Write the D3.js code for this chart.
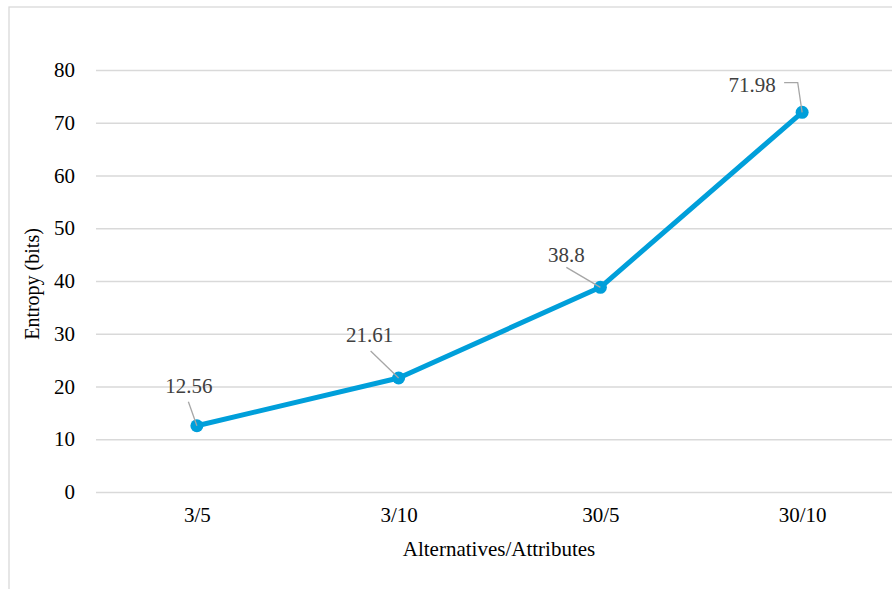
<!DOCTYPE html>
<html>
<head>
<meta charset="utf-8">
<script src="https://cdn.jsdelivr.net/npm/d3@7"></script>
<style>
  html, body { margin: 0; padding: 0; background: #fff; }
  svg { display: block; }
  text { font-family: "Liberation Serif", "Times New Roman", serif; }
</style>
</head>
<body>
<svg id="chart" width="892" height="589"></svg>
<script>
// Entropy per configuration (alternatives/attributes)
const categories = ["3/5", "3/10", "30/5", "30/10"];
const entropy = [12.56, 21.61, 38.8, 71.98];
const dataLabels = ["12.56", "21.61", "38.8", "71.98"];
const yTicks = [0, 10, 20, 30, 40, 50, 60, 70, 80];

const W = 892, H = 589;
const svg = d3.select("#chart");

svg.append("rect").attr("width", W).attr("height", H).attr("fill", "#fff");

// outer chart frame (continues past the right and bottom edges)
svg.append("rect")
  .attr("x", 9).attr("y", 7)
  .attr("width", 1000).attr("height", 1000)
  .attr("fill", "none").attr("stroke", "#d9d9d9").attr("stroke-width", 1.3);

const plot = { left: 96, right: 903, top: 70, bottom: 492 };

const x = d3.scalePoint().domain(categories).range([plot.left, plot.right]).padding(0.5);
const y = d3.scaleLinear().domain([0, 80]).range([plot.bottom, plot.top]);

// horizontal gridlines + value labels
const yAxis = d3.axisLeft(y).tickValues(yTicks).tickSize(-(plot.right - plot.left)).tickPadding(21);
const gy = svg.append("g").attr("transform", `translate(${plot.left},0)`).call(yAxis);
gy.select(".domain").remove();
gy.selectAll(".tick line").attr("stroke", "#d9d9d9").attr("stroke-width", 1.5);
gy.selectAll(".tick text")
  .attr("font-family", "Liberation Serif, Times New Roman, serif")
  .attr("font-size", 21).attr("fill", "#000");

// category labels
const xAxis = d3.axisBottom(x).tickSize(0).tickPadding(15);
const gx = svg.append("g").attr("transform", `translate(0,${plot.bottom})`).call(xAxis);
gx.select(".domain").remove();
gx.selectAll(".tick text")
  .attr("font-family", "Liberation Serif, Times New Roman, serif")
  .attr("font-size", 21).attr("fill", "#000");

// axis titles
svg.append("text")
  .attr("transform", `translate(39,${(plot.top + plot.bottom) / 2 + 3}) rotate(-90)`)
  .attr("text-anchor", "middle").attr("font-size", 20).attr("fill", "#000")
  .text("Entropy (bits)");
svg.append("text")
  .attr("x", 499).attr("y", 556)
  .attr("text-anchor", "middle").attr("font-size", 21).attr("fill", "#000")
  .text("Alternatives/Attributes");

// series line
const pts = categories.map((c, i) => [x(c), y(entropy[i])]);
svg.append("path")
  .attr("d", d3.line()(pts))
  .attr("fill", "none").attr("stroke", "#009fda")
  .attr("stroke-width", 5).attr("stroke-linejoin", "round");

// data label placement: text anchor offset and leader-line path, relative to each point
const labelLayout = [
  { tx: -8,  ty: -33, leader: [[-8.5, -24], [0, 0]] },
  { tx: -29, ty: -36, leader: [[-28, -27], [0, 0]] },
  { tx: -34, ty: -25, leader: [[-34, -20], [0, 0]] },
  { tx: -50, ty: -20, leader: [[-18, -29.6], [-4.4, -29.6], [0, 0]] }
];

// markers
svg.selectAll("circle.pt").data(pts).join("circle")
  .attr("class", "pt")
  .attr("cx", d => d[0]).attr("cy", d => d[1])
  .attr("r", 6.5).attr("fill", "#009fda");

// leader lines
svg.selectAll("path.leader").data(pts).join("path")
  .attr("class", "leader")
  .attr("d", (d, i) => d3.line()(labelLayout[i].leader.map(p => [d[0] + p[0], d[1] + p[1]])))
  .attr("fill", "none").attr("stroke", "#a6a6a6").attr("stroke-width", 1.3);

// value labels
svg.selectAll("text.val").data(pts).join("text")
  .attr("class", "val")
  .attr("x", (d, i) => d[0] + labelLayout[i].tx)
  .attr("y", (d, i) => d[1] + labelLayout[i].ty)
  .attr("text-anchor", "middle").attr("font-size", 21).attr("fill", "#404040")
  .text((d, i) => dataLabels[i]);
</script>
</body>
</html>
